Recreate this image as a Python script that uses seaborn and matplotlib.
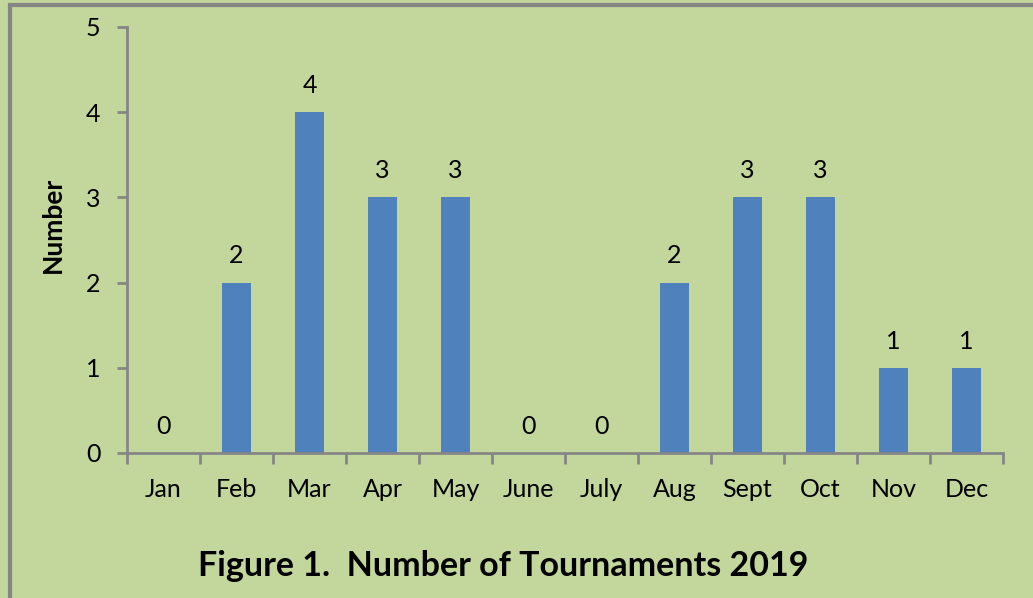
import matplotlib
matplotlib.use("Agg")
import matplotlib.pyplot as plt
import seaborn as sns
import pandas as pd
from matplotlib.patches import Rectangle

months = ["Jan", "Feb", "Mar", "Apr", "May", "June", "July", "Aug", "Sept", "Oct", "Nov", "Dec"]
counts = [0, 2, 4, 3, 3, 0, 0, 2, 3, 3, 1, 1]
yticks = [0, 1, 2, 3, 4, 5]

bg = "#C3D69B"
bar_color = "#4F81BD"
axis_color = "#868686"

sns.set_theme(style="white")
plt.rcParams["font.family"] = ["Lato", "DejaVu Sans"]
plt.rcParams["text.color"] = "black"
plt.rcParams["xtick.color"] = "black"
plt.rcParams["ytick.color"] = "black"
plt.rcParams["axes.labelcolor"] = "black"

df = pd.DataFrame({"month": months, "count": counts})

fig = plt.figure(figsize=(10.33, 5.98), dpi=100, facecolor=bg)
ax = fig.add_axes([127 / 1033, 1 - 453 / 598, (1003 - 127) / 1033, (453 - 27) / 598])
ax.set_facecolor(bg)

sns.barplot(data=df, x="month", y="count", color=bar_color, width=0.4,
            saturation=1, linewidth=0, edgecolor="none", ax=ax)

for i, v in enumerate(counts):
    ax.annotate(str(v), (i, v), xytext=(0, 11), textcoords="offset points",
                ha="center", va="bottom", fontsize=18, color="black")

ax.set_ylim(0, 5)
ax.set_xlim(-0.5, len(months) - 0.5)
ax.set_yticks(yticks)
ax.set_xticks(range(len(months)))
ax.set_xticklabels(months)
ax.set_xlabel("")
ax.set_ylabel("Number", fontsize=19, fontweight="bold")
ax.yaxis.set_label_coords(-62 / 876, (453 - 225) / 426)

for s in ["top", "right"]:
    ax.spines[s].set_visible(False)
for s in ["left", "bottom"]:
    ax.spines[s].set_color(axis_color)
    ax.spines[s].set_linewidth(2)

ax.tick_params(axis="y", length=7, width=2, color=axis_color, labelsize=18,
               labelcolor="black", pad=12, left=True)
ax.tick_params(axis="x", length=0, labelsize=18, labelcolor="black", pad=18,
               bottom=False)
# category separator ticks
ax.set_xticks([i - 0.5 for i in range(len(months) + 1)], minor=True)
ax.tick_params(axis="x", which="minor", length=8, width=2, color=axis_color,
               direction="out", bottom=True)

fig.text(503 / 1033, 1 - 566 / 598, "Figure 1.  Number of Tournaments 2019",
         ha="center", va="center", fontsize=24.5, fontweight="bold", color="black")

fig.patches.append(Rectangle((10 / 1033, -0.01), 1.5, 1 - 5 / 598 + 0.01,
                             transform=fig.transFigure, fill=False,
                             edgecolor=axis_color, linewidth=3))

fig.savefig("out.png", dpi=100, facecolor=bg)
